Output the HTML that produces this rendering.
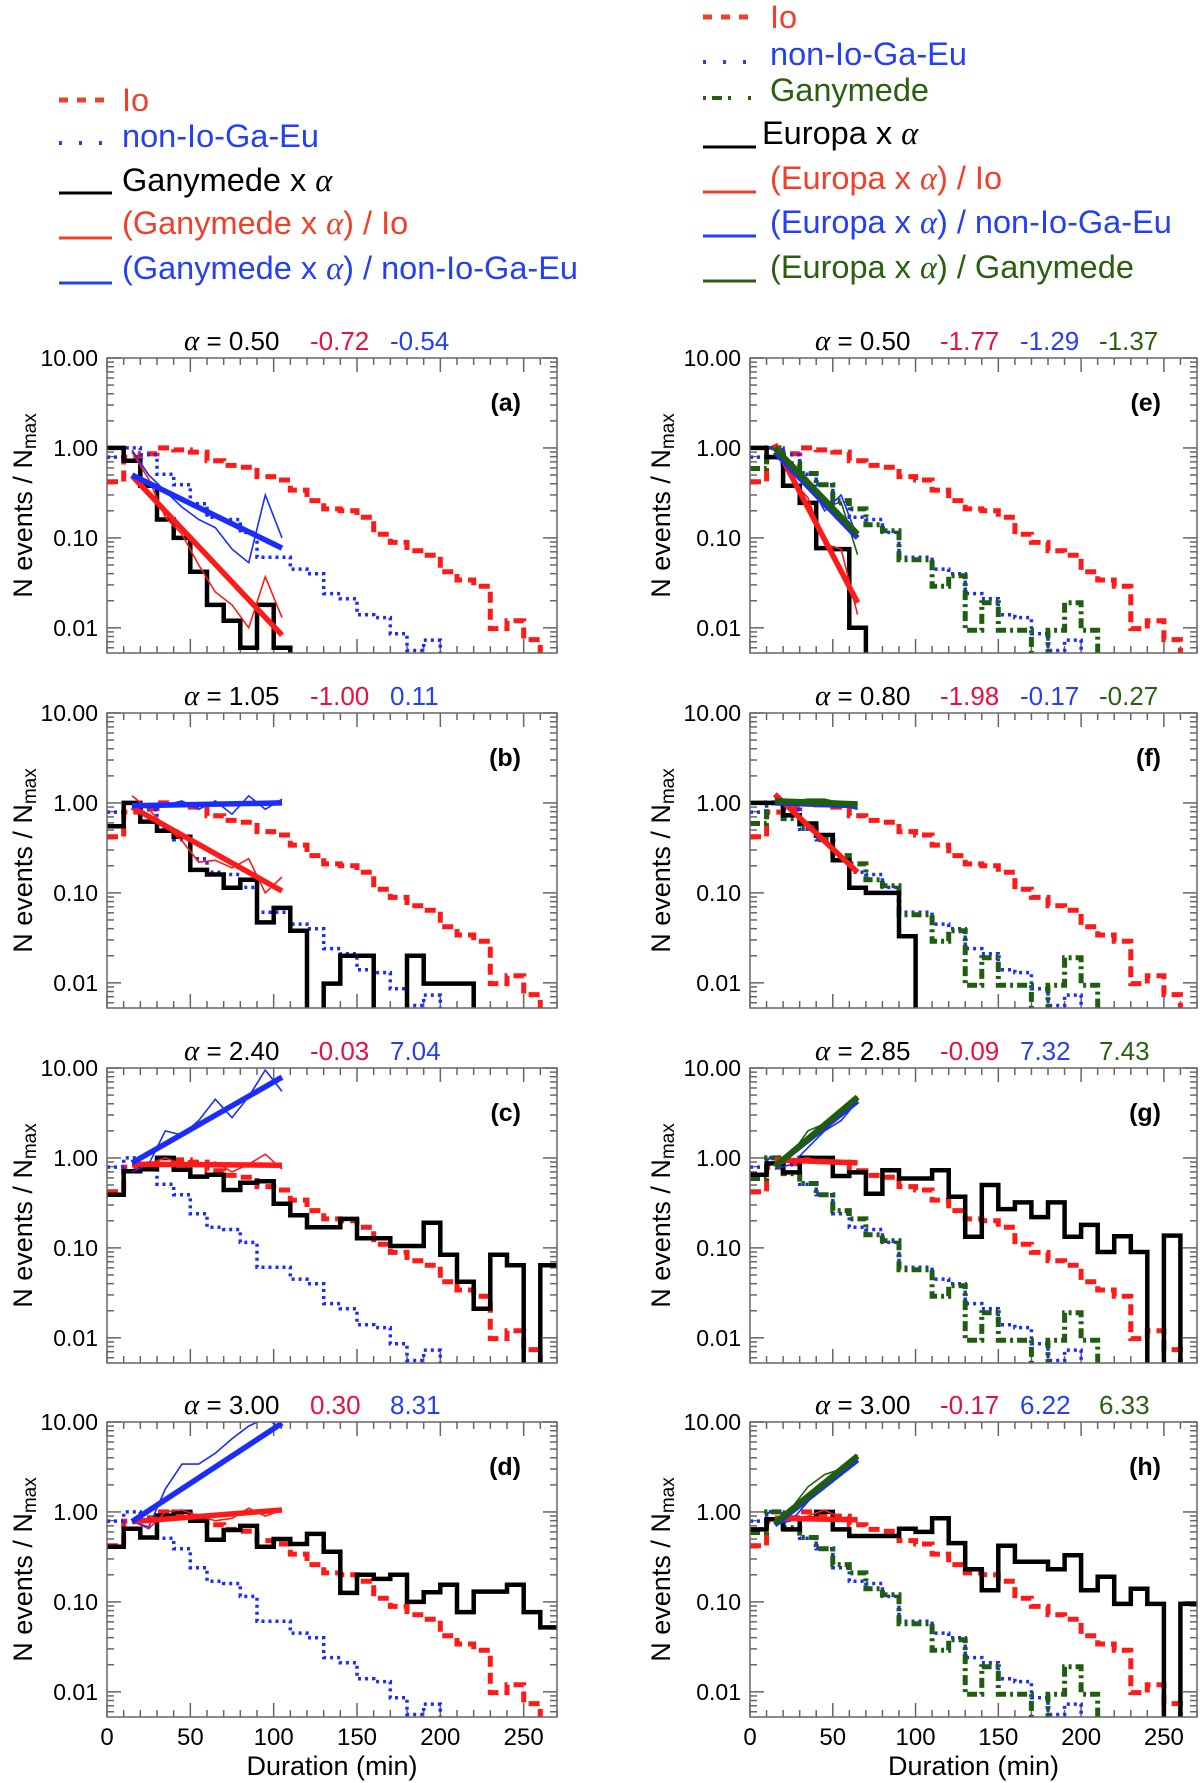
<!DOCTYPE html>
<html><head><meta charset="utf-8">
<style>
html,body{margin:0;padding:0;background:#fff;}
svg{display:block;font-family:"Liberation Sans",Arial,sans-serif;}
</style></head>
<body>
<svg id="chart" width="1200" height="1783" viewBox="0 0 1200 1783" xmlns="http://www.w3.org/2000/svg">
<g id="legend-left" font-size="32.5">
  <line x1="59" y1="100" x2="112" y2="100" stroke="#f0402a" stroke-width="5" stroke-dasharray="9 9"/>
  <text x="122" y="111" fill="#f0402a">Io</text>
  <line x1="59" y1="143" x2="112" y2="143" stroke="#2440f0" stroke-width="4" stroke-dasharray="3 17"/>
  <text x="122" y="147" fill="#2440f0">non-Io-Ga-Eu</text>
  <line x1="59" y1="193" x2="112" y2="193" stroke="#000" stroke-width="3"/>
  <text x="122" y="191" fill="#000">Ganymede x <tspan font-family="Liberation Serif" font-style="italic">α</tspan></text>
  <line x1="59" y1="238" x2="112" y2="238" stroke="#f0402a" stroke-width="3"/>
  <text x="122" y="234" fill="#f0402a">(Ganymede x <tspan font-family="Liberation Serif" font-style="italic">α</tspan>) / Io</text>
  <line x1="59" y1="283" x2="112" y2="283" stroke="#2440f0" stroke-width="3"/>
  <text x="122" y="279" fill="#2440f0">(Ganymede x <tspan font-family="Liberation Serif" font-style="italic">α</tspan>) / non-Io-Ga-Eu</text>
</g>
<g id="legend-right" font-size="32.5">
  <line x1="703" y1="17" x2="756" y2="17" stroke="#f0402a" stroke-width="5" stroke-dasharray="9 9"/>
  <text x="770" y="28" fill="#f0402a">Io</text>
  <line x1="703" y1="62" x2="756" y2="62" stroke="#2440f0" stroke-width="4" stroke-dasharray="3 17"/>
  <text x="770" y="65" fill="#2440f0">non-Io-Ga-Eu</text>
  <line x1="703" y1="98" x2="756" y2="98" stroke="#2a5f10" stroke-width="4" stroke-dasharray="3 6 10 6 3 17"/>
  <text x="770" y="101" fill="#2a5f10">Ganymede</text>
  <line x1="703" y1="147" x2="756" y2="147" stroke="#000" stroke-width="3"/>
  <text x="762" y="144" fill="#000">Europa x <tspan font-family="Liberation Serif" font-style="italic">α</tspan></text>
  <line x1="703" y1="192" x2="756" y2="192" stroke="#f0402a" stroke-width="3"/>
  <text x="770" y="189" fill="#f0402a">(Europa x <tspan font-family="Liberation Serif" font-style="italic">α</tspan>) / Io</text>
  <line x1="703" y1="236" x2="756" y2="236" stroke="#2440f0" stroke-width="3"/>
  <text x="770" y="233" fill="#2440f0">(Europa x <tspan font-family="Liberation Serif" font-style="italic">α</tspan>) / non-Io-Ga-Eu</text>
  <line x1="703" y1="281" x2="756" y2="281" stroke="#2a5f10" stroke-width="3"/>
  <text x="770" y="278" fill="#2a5f10">(Europa x <tspan font-family="Liberation Serif" font-style="italic">α</tspan>) / Ganymede</text>
</g>
<g id="panels"></g>
</svg>
<script>
// ---- data (bin edges every 10 min, 0..270) ----
const binWidth = 10;
const xTicks = [0, 50, 100, 150, 200, 250];
const yTicks = [10, 1, 0.1, 0.01];
const yTickLabels = ["10.00", "1.00", "0.10", "0.01"];
const ioHist = [0.42,0.79,0.86,1.0,0.95,0.90,0.72,0.64,0.61,0.48,0.44,0.34,0.26,0.21,0.20,0.17,0.11,0.089,0.072,0.064,0.042,0.034,0.029,0.0098,0.012,0.0074,0];
const nonIoHist = [0.79,1.0,0.84,0.51,0.39,0.24,0.17,0.16,0.115,0.061,0.061,0.045,0.040,0.024,0.021,0.014,0.013,0.0086,0.0056,0.0073,0,0,0,0,0,0,0];
const ganymedeHist = [0.59,1.0,0.67,0.52,0.39,0.26,0.21,0.14,0.12,0.057,0.057,0.029,0.038,0.0094,0.019,0.0094,0.0094,0,0.0094,0.019,0.0094,0,0,0,0,0,0];
const ganyA = [1.0,0.72,0.38,0.16,0.10,0.042,0.018,0.012,0.006,0.018,0.006,0,0,0,0,0,0,0,0,0,0,0,0,0,0,0,0];
const ganyB = [0.55,1.0,0.62,0.49,0.42,0.18,0.16,0.114,0.14,0.047,0.068,0.038,0,0.0098,0.02,0.02,0,0,0.02,0.0098,0.0098,0.0098,0,0,0,0,0];
const ganyC = [0.39,0.71,0.75,1.0,0.74,0.62,0.65,0.44,0.53,0.55,0.31,0.23,0.17,0.17,0.21,0.128,0.128,0.105,0.105,0.19,0.084,0.042,0.021,0.084,0.064,0,0.064];
const ganyD = [0.41,0.65,0.52,0.91,1.0,0.8,0.49,0.63,0.7,0.41,0.5,0.44,0.57,0.36,0.126,0.2,0.18,0.2,0.1,0.128,0.155,0.077,0.13,0.13,0.155,0.077,0.052];
const europaE = [1.0,0.79,0.38,0.245,0.077,0.075,0.01,0,0,0,0,0,0,0,0,0,0,0,0,0,0,0,0,0,0,0,0];
const europaF = [1.0,1.0,0.73,0.59,0.44,0.23,0.114,0.1,0.1,0.033,0,0,0,0,0,0,0,0,0,0,0,0,0,0,0,0,0];
const europaG = [0.65,0.87,0.69,1.0,1.0,0.63,0.69,0.40,0.73,0.59,0.59,0.73,0.37,0.133,0.5,0.27,0.32,0.22,0.32,0.133,0.18,0.09,0.135,0.09,0,0.137,0];
const europaH = [0.64,0.83,0.64,0.85,1.0,0.64,0.54,0.54,0.54,0.65,0.6,0.85,0.45,0.23,0.135,0.42,0.28,0.28,0.23,0.33,0.135,0.19,0.095,0.14,0.095,0,0.095];
// fit end points (durations) and ratio sample points
const fitXLeft = [15, 105];
const fitXRight = [15, 65];
const ratioXLeft = [15,25,35,45,55,65,75,85,95,105];
const ratioXRight = [15,25,35,45,55,65];
// panel a
const fitRedA = [0.49, 0.0083], fitBlueA = [0.5, 0.077];
const ratioRedA = [0.9,0.45,0.17,0.11,0.05,0.025,0.018,0.01,0.037,0.013];
const ratioBlueA = [0.95,0.5,0.33,0.22,0.16,0.13,0.075,0.053,0.3,0.1];
// panel b
const fitRedB = [0.9, 0.105], fitBlueB = [0.93, 1.0];
const ratioRedB = [1.2,0.85,0.55,0.38,0.22,0.23,0.19,0.24,0.1,0.15];
const ratioBlueB = [0.95,0.88,0.95,1.05,0.85,1.05,0.75,1.2,0.85,1.1];
// panel c
const fitRedC = [0.85, 0.83], fitBlueC = [0.88, 7.9];
const ratioRedC = [0.8,0.85,1.0,0.85,0.8,0.9,0.7,0.85,1.1,0.75];
const ratioBlueC = [0.7,0.85,2.0,1.8,2.6,4.5,2.8,4.8,9.5,5.5];
// panel d
const fitRedD = [0.78, 1.05], fitBlueD = [0.78, 9.7];
const ratioRedD = [0.8,0.65,1.0,1.05,0.9,0.8,0.85,1.1,0.9,1.05];
const ratioBlueD = [0.78,0.68,1.8,3.4,3.4,4.5,6.5,9.0,11,8.5];
// panel e
const fitRedE = [1.1, 0.019], fitBlueE = [0.9, 0.1], fitGreenE = [1.0, 0.11];
const ratioRedE = [1.1,0.45,0.28,0.085,0.075,0.014];
const ratioBlueE = [0.95,0.55,0.45,0.2,0.3,0.1];
const ratioGreenE = [1.0,0.7,0.45,0.22,0.25,0.065];
// panel f
const fitRedF = [1.25, 0.17], fitBlueF = [1.0, 0.93], fitGreenF = [1.05, 0.97];
const ratioRedF = [1.2,0.85,0.55,0.4,0.25,0.17];
const ratioBlueF = [1.0,1.0,1.0,1.0,0.95,0.85];
const ratioGreenF = [1.05,1.05,1.1,1.1,1.0,0.95];
// panel g
const fitRedG = [0.95, 0.88], fitBlueG = [0.8, 4.3], fitGreenG = [0.8, 4.75];
const ratioRedG = [0.8,0.95,1.0,0.9,0.85,0.9];
const ratioBlueG = [0.75,0.85,1.3,2.0,2.6,4.3];
const ratioGreenG = [0.8,1.1,2.0,2.4,3.2,4.8];
// panel h
const fitRedH = [0.85, 0.82], fitBlueH = [0.72, 3.8], fitGreenH = [0.75, 4.2];
const ratioRedH = [0.8,0.8,0.9,1.05,0.85,0.82];
const ratioBlueH = [0.72,0.8,1.3,2.1,2.6,3.8];
const ratioGreenH = [0.75,1.1,1.9,2.6,3.0,4.3];
// titles
const alphaLabels = ["0.50","1.05","2.40","3.00","0.50","0.80","2.85","3.00"];
const redLabels = ["-0.72","-1.00","-0.03","0.30","-1.77","-1.98","-0.09","-0.17"];
const blueLabels = ["-0.54","0.11","7.04","8.31","-1.29","-0.17","7.32","6.22"];
const greenLabels = ["","","","","-1.37","-0.27","7.43","6.33"];

const C_RED="#ff1a1a", C_BLUE="#1a2cff", C_GREEN="#1e5e0e", T_RED="#e8103c", T_BLUE="#2440f0", T_GREEN="#2a5f10", FRAME="#666";
const XMAX=270, LOGTOP=1, LOGBOT=-2.28;
const colX=[[107,557],[750,1197]];
const rowTop=[358,713,1068,1422];
const PH=295;
const NS="http://www.w3.org/2000/svg";
const root=document.getElementById('panels');

function mk(tag, attrs, parent){
  const e=document.createElementNS(NS,tag);
  for(const k in attrs) e.setAttribute(k,attrs[k]);
  parent.appendChild(e); return e;
}
function xs(p,v){return p.x0+v/XMAX*(p.x1-p.x0);}
function ys(p,v){const l=v>0?Math.log10(v):-4;return p.y0+(LOGTOP-l)/(LOGTOP-LOGBOT)*(p.y1-p.y0);}
function histPath(p,vals){
  let d='M'+xs(p,0).toFixed(1)+','+ys(p,vals[0]).toFixed(1);
  for(let i=0;i<vals.length;i++){
    if(i>0) d+=' V'+ys(p,vals[i]).toFixed(1);
    d+=' H'+xs(p,(i+1)*binWidth).toFixed(1);
  }
  return d;
}
function linePath(p,xv,yv){
  return xv.map((x,i)=>(i?'L':'M')+xs(p,x).toFixed(1)+','+ys(p,yv[i]).toFixed(1)).join(' ');
}

const panelDefs=[
 {L:'a',col:0,row:0,hist:ganyA,fitX:fitXLeft,rx:ratioXLeft,fits:[[fitRedA,ratioRedA,C_RED],[fitBlueA,ratioBlueA,C_BLUE]]},
 {L:'b',col:0,row:1,hist:ganyB,fitX:fitXLeft,rx:ratioXLeft,fits:[[fitRedB,ratioRedB,C_RED],[fitBlueB,ratioBlueB,C_BLUE]]},
 {L:'c',col:0,row:2,hist:ganyC,fitX:fitXLeft,rx:ratioXLeft,fits:[[fitRedC,ratioRedC,C_RED],[fitBlueC,ratioBlueC,C_BLUE]]},
 {L:'d',col:0,row:3,hist:ganyD,fitX:fitXLeft,rx:ratioXLeft,fits:[[fitRedD,ratioRedD,C_RED],[fitBlueD,ratioBlueD,C_BLUE]]},
 {L:'e',col:1,row:0,hist:europaE,fitX:fitXRight,rx:ratioXRight,fits:[[fitRedE,ratioRedE,C_RED],[fitBlueE,ratioBlueE,C_BLUE],[fitGreenE,ratioGreenE,C_GREEN]]},
 {L:'f',col:1,row:1,hist:europaF,fitX:fitXRight,rx:ratioXRight,fits:[[fitRedF,ratioRedF,C_RED],[fitBlueF,ratioBlueF,C_BLUE],[fitGreenF,ratioGreenF,C_GREEN]]},
 {L:'g',col:1,row:2,hist:europaG,fitX:fitXRight,rx:ratioXRight,fits:[[fitRedG,ratioRedG,C_RED],[fitBlueG,ratioBlueG,C_BLUE],[fitGreenG,ratioGreenG,C_GREEN]]},
 {L:'h',col:1,row:3,hist:europaH,fitX:fitXRight,rx:ratioXRight,fits:[[fitRedH,ratioRedH,C_RED],[fitBlueH,ratioBlueH,C_BLUE],[fitGreenH,ratioGreenH,C_GREEN]]}
];

panelDefs.forEach((pd,idx)=>{
  const p={x0:colX[pd.col][0],x1:colX[pd.col][1],y0:rowTop[pd.row],y1:rowTop[pd.row]+PH};
  const g=mk('g',{},root);
  
  
  const clipId='clip-'+pd.L;
  const defs=mk('defs',{},g);
  const cp=mk('clipPath',{id:clipId},defs);
  mk('rect',{x:p.x0,y:p.y0,width:p.x1-p.x0,height:p.y1-p.y0},cp);

  const tg=mk('g',{stroke:FRAME,'stroke-width':1.5},g);
  
  
  for(let v=0;v<=XMAX;v+=10){
    const x=xs(p,v), len=(v%50===0)?14:7;
    mk('line',{x1:x,y1:p.y1,x2:x,y2:p.y1-len},tg);
    mk('line',{x1:x,y1:p.y0,x2:x,y2:p.y0+len},tg);
  }
  for(let d=-3;d<=1;d++){
    for(let k=1;k<=9;k++){
      const v=k*Math.pow(10,d);
      const l=Math.log10(v);
      if(l>LOGTOP+1e-9||l<LOGBOT) continue;
      const y=ys(p,v), len=(k===1)?14:7;
      mk('line',{x1:p.x0,y1:y,x2:p.x0+len,y2:y},tg);
      mk('line',{x1:p.x1,y1:y,x2:p.x1-len,y2:y},tg);
    }
  }
  yTicks.forEach((v,i)=>{
    const t=mk('text',{x:p.x0-9,y:ys(p,v)+8,'text-anchor':'end','font-size':23,fill:'#000'},g);
    
    
    t.textContent=yTickLabels[i];
  });
  if(pd.row===3){
    xTicks.forEach(v=>{
      const t=mk('text',{x:xs(p,v),y:p.y1+28,'text-anchor':'middle','font-size':24,fill:'#000'},g);
      
      
      t.textContent=String(v);
    });
    const xt=mk('text',{x:(p.x0+p.x1)/2,y:p.y1+58,'text-anchor':'middle','font-size':27,fill:'#000'},g);
    
    
    xt.textContent='Duration (min)';
  }
  const cx=pd.col===0?22:660, cy=(p.y0+p.y1)/2;
  const yt=mk('text',{x:cx,y:cy,'text-anchor':'middle','font-size':27,fill:'#000',transform:'rotate(-90 '+cx+' '+cy+')',dy:10},g);
  
  
  yt.innerHTML='N events / N<tspan font-size="19" dy="4">max</tspan>';

  const tx=pd.col===0?[184,310,390,0]:[815,940,1020,1099];
  const ty=p.y0-8;
  const t1=mk('text',{x:tx[0],y:ty,'font-size':26,fill:'#000'},g);
  
  
  t1.innerHTML='<tspan font-family="Liberation Serif" font-style="italic" font-size="29">α</tspan> = '+alphaLabels[idx];
  const t2=mk('text',{x:tx[1],y:ty,'font-size':26,fill:T_RED},g);
  
  
  t2.textContent=redLabels[idx];
  const t3=mk('text',{x:tx[2],y:ty,'font-size':26,fill:T_BLUE},g);
  
  
  t3.textContent=blueLabels[idx];
  if(greenLabels[idx]){
    const t4=mk('text',{x:tx[3],y:ty,'font-size':26,fill:T_GREEN},g);
    
    
    t4.textContent=greenLabels[idx];
  }
  const pl=mk('text',{x:p.x1-36,y:p.y0+53,'text-anchor':'end','font-size':25,'font-weight':'bold',fill:'#000'},g);
  
  
  pl.textContent='('+pd.L+')';

  const dg=mk('g',{'clip-path':'url(#'+clipId+')',fill:'none'},g);
  
  
  const io=mk('path',{d:histPath(p,ioHist),stroke:C_RED,'stroke-width':5,'stroke-dasharray':'11 6'},dg);
  
  
  const nio=mk('path',{d:histPath(p,nonIoHist),stroke:C_BLUE,'stroke-width':3.5,'stroke-dasharray':'3 4'},dg);
  
  
  if(pd.col===1){
    const gh=mk('path',{d:histPath(p,ganymedeHist),stroke:C_GREEN,'stroke-width':5,'stroke-dasharray':'10 4 3 4'},dg);
    
    
  }
  const bh=mk('path',{d:histPath(p,pd.hist),stroke:'#000','stroke-width':4.5},dg);
  
  
  pd.fits.forEach(f=>{
    const thin=mk('path',{d:linePath(p,pd.rx,f[1]),stroke:f[2],'stroke-width':1.6},dg);
    
    
  });
  pd.fits.forEach(f=>{
    const thick=mk('path',{d:linePath(p,pd.fitX,f[0]),stroke:f[2],'stroke-width':f[2]===C_GREEN?6:5.5,'stroke-linecap':'butt'},dg);
    
    
  });
  const fr=mk('rect',{x:p.x0,y:p.y0,width:p.x1-p.x0,height:p.y1-p.y0,fill:'none',stroke:FRAME,'stroke-width':1.5},g);
  
  
});
</script>
</body></html>
